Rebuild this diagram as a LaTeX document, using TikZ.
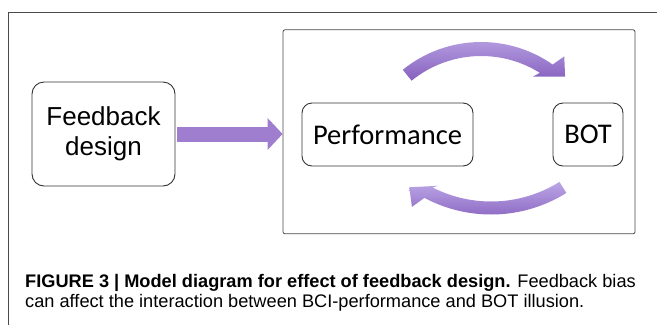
\documentclass[tikz,border=0pt]{standalone}
\usepackage{fontspec}
\setmainfont{Liberation Sans}
\newfontfamily\perffont{Carlito}
\usetikzlibrary{arrows.meta}

\definecolor{framegray}{HTML}{4A4A4A}
\definecolor{arrowpurple}{HTML}{A07ECF}
\definecolor{arclight}{HTML}{BCA6E6}
\definecolor{arcdark}{HTML}{8661BE}

\tikzset{
  block/.style={draw=black!80, line width=0.9pt, rounded corners=12pt, align=center, inner sep=0pt},
  bentarrow/.style={top color=arclight, bottom color=arcdark},
}

\begin{document}
\begin{tikzpicture}[x=1pt, y=-1pt]
\useasboundingbox (0,0) rectangle (657,325);

% outer frame, only top and left edges show
\draw[framegray, line width=0.8pt] (8.3,325) -- (8.3,12) -- (657,12);

\node[draw=framegray, line width=0.8pt, rounded corners=2pt, minimum width=352pt, minimum height=204pt] (model) at (459,131.8) {};
\node[block, minimum width=143pt, minimum height=104pt, font=\fontsize{26}{30}\selectfont] (fb) at (103.5,134) {Feedback\\design};
\node[block, rounded corners=10pt, minimum width=171pt, minimum height=63pt, font=\perffont\fontsize{28.5}{30}\selectfont] (perf) at (387.5,134.5) {Performance};
\node[block, rounded corners=10pt, minimum width=70pt, minimum height=63pt, font=\perffont\fontsize{28.5}{30}\selectfont] (bot) at (588,134.5) {BOT};

\draw[arrowpurple, line width=15pt, -{Triangle[width=31pt,length=15pt]}] ([xshift=2pt]fb.east) -- (fb.east -| model.west);

% upper bent arrow, perf -> bot
\begin{scope}[shift={(481.2,166.6)}]
\shade[bentarrow] (-129:124.6) arc[start angle=-129, end angle=-55, radius=124.6]
  -- (-53:138) -- (-47:123) -- (-60:104) -- (-58:110.6)
  arc[start angle=-58, end angle=-129, radius=110.6] -- cycle;
\end{scope}
% lower bent arrow, bot -> perf
\begin{scope}[shift={(491.1,72.5)}]
\shade[bentarrow] (58:142) arc[start angle=58, end angle=118, radius=142]
  -- (120.5:156) -- (125.5:141) -- (115:125) -- (117:129)
  arc[start angle=117, end angle=58, radius=129] -- cycle;
\end{scope}

% caption
\node[anchor=base west, inner sep=0pt, font=\fontsize{18.2}{21}\selectfont] (cap1) at (25,287) {\textbf{FIGURE 3 | Model diagram for effect of feedback design.} Feedback bias};
\node[anchor=base west, inner sep=0pt, font=\fontsize{18.2}{21}\selectfont] (cap2) at (25,307) {can affect the interaction between BCI-performance and BOT illusion.};
\end{tikzpicture}
\end{document}
